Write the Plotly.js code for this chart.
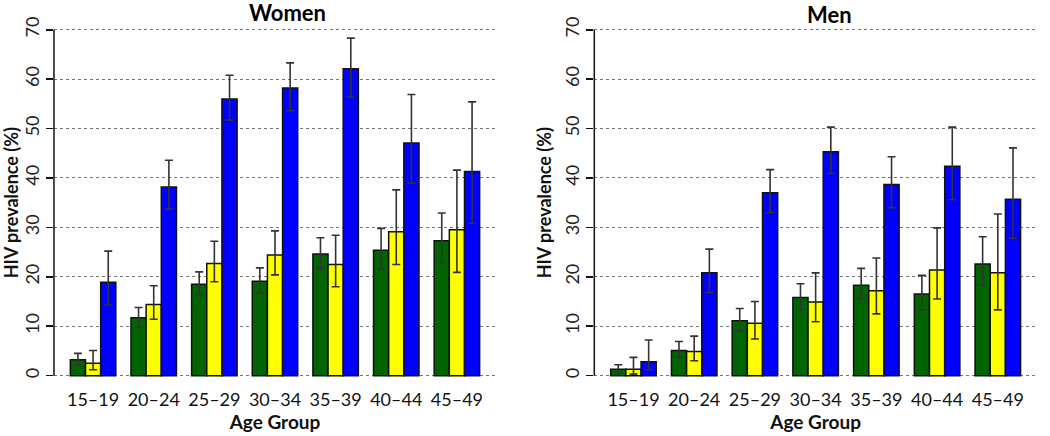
<!DOCTYPE html>
<html>
<head>
<meta charset="utf-8">
<script src="https://cdn.plot.ly/plotly-3.0.1.min.js"></script>
<style>html,body{margin:0;padding:0;background:#fff;}#chart{width:1050px;height:436px;}</style>
</head>
<body>
<div id="chart"></div>
<script>
// ---- data ----
var ageGroups = ['15–19','20–24','25–29','30–34','35–39','40–44','45–49'];

var womenGreen      = [3.2, 11.7, 18.5, 19.1, 24.6, 25.4, 27.3];
var womenGreenUpper = [4.5, 13.8, 21.0, 21.8, 27.9, 29.8, 32.9];
var womenGreenLower = [2.2,  9.8, 16.3, 16.8, 21.7, 21.5, 22.7];
var womenYellow      = [2.5, 14.4, 22.7, 24.4, 22.5, 29.1, 29.5];
var womenYellowUpper = [5.1, 18.2, 27.2, 29.3, 28.4, 37.6, 41.6];
var womenYellowLower = [1.2, 11.4, 19.0, 20.4, 18.0, 22.5, 20.9];
var womenBlue      = [18.9, 38.2, 56.0, 58.2, 62.1, 47.1, 41.3];
var womenBlueUpper = [25.2, 43.6, 60.8, 63.3, 68.3, 56.9, 55.4];
var womenBlueLower = [14.3, 33.7, 51.7, 53.6, 56.4, 39.0, 30.8];

var menGreen      = [1.3, 5.1, 11.1, 15.8, 18.3, 16.5, 22.6];
var menGreenUpper = [2.2, 6.9, 13.6, 18.6, 21.7, 20.3, 28.1];
var menGreenLower = [0.5, 3.7,  9.0, 13.3, 15.6, 13.3, 18.3];
var menYellow      = [1.3, 4.9, 10.6, 14.9, 17.2, 21.4, 20.8];
var menYellowUpper = [3.7, 8.0, 15.0, 20.8, 23.8, 29.9, 32.7];
var menYellowLower = [0.3, 3.0,  7.4, 10.9, 12.5, 15.5, 13.3];
var menBlue      = [2.8, 20.8, 37.0, 45.3, 38.7, 42.4, 35.7];
var menBlueUpper = [7.2, 25.6, 41.7, 50.3, 44.3, 50.3, 46.1];
var menBlueLower = [1.2, 16.8, 33.0, 40.9, 34.0, 35.6, 27.8];

var yTicks = [0, 10, 20, 30, 40, 50, 60, 70];

// ---- styles ----
var FONT = 'Lato, "Liberation Sans", Arial, sans-serif';
var colors = ['#006400', '#FFFF00', '#0000FF'];

function series(vals, up, lo, color, xa, ya, name) {
  return {
    type: 'bar', x: ageGroups, y: vals, name: name, xaxis: xa, yaxis: ya,
    showlegend: false,
    marker: {color: color, line: {color: '#111', width: 1.5}},
    error_y: {
      type: 'data', symmetric: false,
      array: up.map(function (u, i) { return u - vals[i]; }),
      arrayminus: lo.map(function (l, i) { return vals[i] - l; }),
      color: '#333', thickness: 1.6, width: 4
    }
  };
}

var data = [
  series(womenGreen,  womenGreenUpper,  womenGreenLower,  colors[0], 'x',  'y',  'Women green'),
  series(womenYellow, womenYellowUpper, womenYellowLower, colors[1], 'x',  'y',  'Women yellow'),
  series(womenBlue,   womenBlueUpper,   womenBlueLower,   colors[2], 'x',  'y',  'Women blue'),
  series(menGreen,    menGreenUpper,    menGreenLower,    colors[0], 'x2', 'y2', 'Men green'),
  series(menYellow,   menYellowUpper,   menYellowLower,   colors[1], 'x2', 'y2', 'Men yellow'),
  series(menBlue,     menBlueUpper,     menBlueLower,     colors[2], 'x2', 'y2', 'Men blue')
];

function xAxis(domain, anchor) {
  return {
    domain: domain, anchor: anchor, type: 'category',
    range: [-0.645, 6.645], showgrid: false, zeroline: false, showline: false,
    ticks: '', tickfont: {family: FONT, size: 18, color: '#111'},
    ticklabelstandoff: -2,
    title: {text: 'Age Group', font: {family: FONT, size: 19, color: '#111', weight: 'bold'}, standoff: 6},
    automargin: false, fixedrange: true
  };
}
function yAxis(domain, anchor) {
  return {
    domain: domain, anchor: anchor, range: [-2.8, 72.8],
    tickvals: yTicks, ticktext: yTicks.map(String),
    tickangle: -90, ticks: 'outside', ticklen: 7, tickwidth: 1.5, tickcolor: '#111',
    tickfont: {family: FONT, size: 18, color: '#222'},
    showline: false, zeroline: false,
    showgrid: true, gridcolor: '#777', gridwidth: 1, griddash: 'dot',
    title: {text: 'HIV prevalence (%)', font: {family: FONT, size: 18, color: '#111', weight: 'bold'}, standoff: 4},
    automargin: false, fixedrange: true
  };
}

var yDom = [0.1067, 0.9635];
var layout = {
  width: 1050, height: 436,
  margin: {l: 0, r: 0, t: 0, b: 0},
  paper_bgcolor: '#fff', plot_bgcolor: 'rgba(0,0,0,0)',
  barmode: 'group', bargap: 0.25, bargroupgap: 0,
  xaxis: xAxis([0.0514, 0.4724], 'y'),
  yaxis: yAxis(yDom, 'x'),
  xaxis2: xAxis([0.566, 0.9876], 'y2'),
  yaxis2: yAxis(yDom, 'x2'),
  shapes: [
    {type: 'line', xref: 'x domain', yref: 'y', x0: 0, x1: 0, y0: 0, y1: 70, line: {color: '#111', width: 1.5}},
    {type: 'line', xref: 'x2 domain', yref: 'y2', x0: 0, x1: 0, y0: 0, y1: 70, line: {color: '#111', width: 1.5}}
  ],
  annotations: [
    {text: 'Women', xref: 'paper', yref: 'paper', x: 287/1050, y: 1 - 13/436, xanchor: 'center', yanchor: 'middle',
     showarrow: false, font: {family: FONT, size: 22, color: '#000', weight: 'bold'}},
    {text: 'Men', xref: 'paper', yref: 'paper', x: 829/1050, y: 1 - 15/436, xanchor: 'center', yanchor: 'middle',
     showarrow: false, font: {family: FONT, size: 22, color: '#000', weight: 'bold'}}
  ]
};

Plotly.newPlot('chart', data, layout, {displayModeBar: false, staticPlot: true});
</script>
</body>
</html>
